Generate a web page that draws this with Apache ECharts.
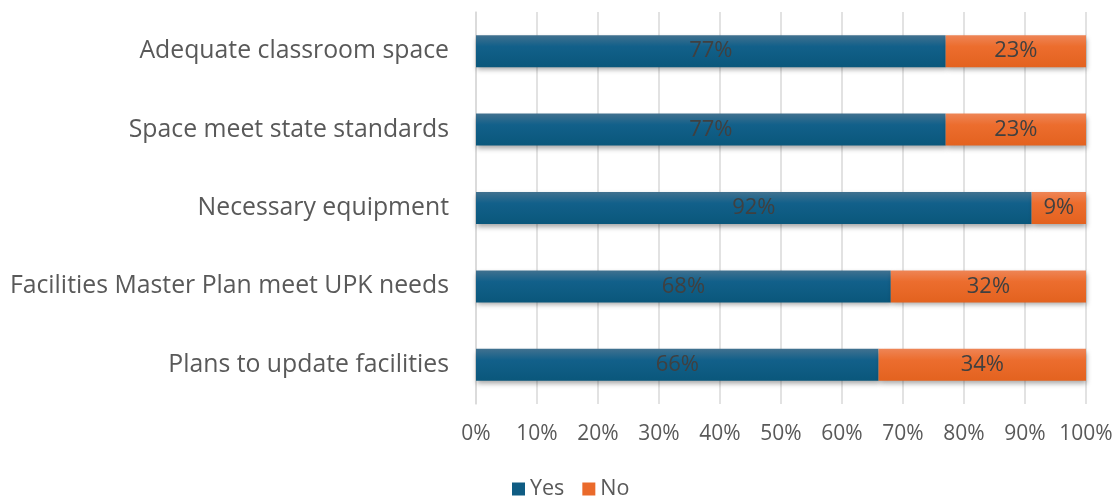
<!DOCTYPE html>
<html>
<head>
<meta charset="utf-8">
<script src="https://cdn.jsdelivr.net/npm/echarts@6/dist/echarts.min.js"></script>
<style>
  html, body { margin: 0; padding: 0; background: #fff; }
  #chart { width: 1116px; height: 500px; }
</style>
</head>
<body>
<div id="chart"></div>
<script>
// Survey items, top to bottom
const categories = [
  'Adequate classroom space',
  'Space meet state standards',
  'Necessary equipment',
  'Facilities Master Plan meet UPK needs',
  'Plans to update facilities'
];
// Reported percentages
const yesValues = [77, 77, 92, 68, 66];
const noValues = [23, 23, 9, 32, 34];
const xTicks = [0, 10, 20, 30, 40, 50, 60, 70, 80, 90, 100];

const FONT = '"Open Sans", "Noto Sans", sans-serif';

// 100% stacked: each bar's share of its row total, label keeps the reported value
function share(values) {
  return values.map((v, i) => ({
    value: v / (yesValues[i] + noValues[i]) * 100,
    raw: v
  }));
}

function grad(top, mid, bottom) {
  return new echarts.graphic.LinearGradient(0, 0, 0, 1, [
    { offset: 0, color: top },
    { offset: 0.35, color: mid },
    { offset: 1, color: bottom }
  ]);
}

const labelStyle = {
  show: true,
  position: 'inside',
  color: '#404040',
  fontSize: 22,
  fontFamily: FONT,
  formatter: p => p.data.raw + '%'
};

const barShadow = {
  shadowColor: 'rgba(0,0,0,0.35)',
  shadowBlur: 5,
  shadowOffsetX: 1,
  shadowOffsetY: 3
};

const chart = echarts.init(document.getElementById('chart'), null, { renderer: 'canvas' });
chart.setOption({
  animation: false,
  textStyle: { fontFamily: FONT },
  grid: { left: 476, right: 30, top: 12, height: 392, containLabel: false },
  legend: {
    top: 473,
    left: 507,
    itemWidth: 13,
    itemHeight: 13,
    itemGap: 18,
    icon: 'rect',
    textStyle: { color: '#595959', fontSize: 21.5, fontFamily: FONT },
    data: [
      { name: 'Yes', itemStyle: { color: '#0f5c83' } },
      { name: 'No', itemStyle: { color: '#ea6a2b' } }
    ]
  },
  xAxis: {
    type: 'value',
    min: 0,
    max: 100,
    interval: 10,
    axisLine: { show: false },
    axisTick: { show: false },
    axisLabel: {
      color: '#595959',
      fontSize: 21,
      fontFamily: FONT,
      margin: 20,
      formatter: v => (xTicks.includes(v) ? v + '%' : '')
    },
    splitLine: { show: true, lineStyle: { color: '#d9d9d9', width: 1.5 } }
  },
  yAxis: {
    type: 'category',
    inverse: true,
    data: categories,
    axisLine: { show: true, lineStyle: { color: '#d9d9d9', width: 1.5 } },
    axisTick: { show: false },
    axisLabel: { color: '#595959', fontSize: 24.8, fontFamily: FONT, margin: 27 }
  },
  series: [
    {
      name: 'Yes',
      type: 'bar',
      stack: 'total',
      barWidth: 32,
      data: share(yesValues),
      label: labelStyle,
      itemStyle: Object.assign({ color: grad('#41718f', '#12608a', '#0a577b') }, barShadow)
    },
    {
      name: 'No',
      type: 'bar',
      stack: 'total',
      barWidth: 32,
      data: share(noValues),
      label: labelStyle,
      itemStyle: Object.assign({ color: grad('#ee8556', '#ec6d2e', '#e3621f') }, barShadow)
    }
  ]
});
</script>
</body>
</html>
